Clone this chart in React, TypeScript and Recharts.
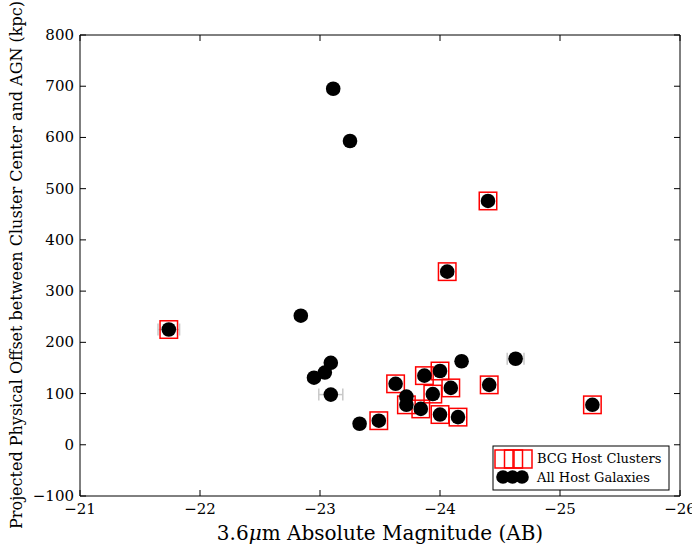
import {
  ScatterChart,
  Scatter,
  XAxis,
  YAxis,
  ErrorBar,
  ReferenceArea,
} from "recharts";

// 3.6um absolute magnitude of each AGN host galaxy
const hostMag = [
  -23.11, -23.25, -24.4, -24.06, -21.74, -22.84, -23.09, -23.04, -22.95, -23.09,
  -23.33, -23.49, -23.63, -23.72, -23.72, -23.84, -23.87, -24.0, -23.94, -24.09,
  -24.0, -24.15, -24.18, -24.41, -24.63, -25.27,
];
// projected offset from cluster center (kpc)
const hostOffset = [
  695, 593, 476, 338, 225, 252, 160, 141, 131, 98,
  41, 47, 119, 94, 78, 70, 135, 144, 99, 111,
  59, 54, 163, 117, 168, 78,
];
// magnitude uncertainties (grey bars)
const magErr = [
  0, 0, 0, 0, 0.09, 0, 0, 0, 0, 0.1,
  0, 0, 0, 0, 0, 0, 0, 0, 0, 0,
  0, 0, 0, 0, 0.07, 0,
];
// whether the host sits in a BCG host cluster
const isBCG = [
  false, false, true, true, true, false, false, false, false, false,
  false, true, true, false, true, true, true, true, true, true,
  true, true, false, true, false, true,
];

const xTicks = [-21, -22, -23, -24, -25, -26];
const yTicks = [-100, 0, 100, 200, 300, 400, 500, 600, 700, 800];

const FONT = "'DejaVu Serif', serif";
const W = 692;
const H = 544;
const PLOT = { left: 80, right: 680, top: 35, bottom: 496 };
const TICK = 6;

const hostData = hostMag.map((mag, i) => ({
  mag,
  offset: hostOffset[i],
  xerr: magErr[i],
}));
const bcgData = hostData.filter((_, i) => isBCG[i]);

const fmt = (v: number) => (v < 0 ? `\u2212${Math.abs(v)}` : `${v}`);

function XTick(props: any) {
  const { x, payload } = props;
  return (
    <g>
      <line x1={x} x2={x} y1={PLOT.bottom} y2={PLOT.bottom - TICK} stroke="#000" />
      <line x1={x} x2={x} y1={PLOT.top} y2={PLOT.top + TICK} stroke="#000" />
      <text x={x} y={514} textAnchor="middle" fontSize={15} fontFamily={FONT} fill="#000">
        {fmt(payload.value)}
      </text>
    </g>
  );
}

function YTick(props: any) {
  const { y, payload } = props;
  return (
    <g>
      <line x1={PLOT.left} x2={PLOT.left + TICK} y1={y} y2={y} stroke="#000" />
      <line x1={PLOT.right} x2={PLOT.right - TICK} y1={y} y2={y} stroke="#000" />
      <text x={74} y={y + 5} textAnchor="end" fontSize={15} fontFamily={FONT} fill="#000">
        {fmt(payload.value)}
      </text>
    </g>
  );
}

const Dot = (p: any) => <circle cx={p.cx} cy={p.cy} r={7.3} fill="#000" />;
const Box = (p: any) => (
  <rect x={p.cx - 8.75} y={p.cy - 8.75} width={17.5} height={17.5} fill="none" stroke="#ff0000" strokeWidth={1.5} />
);

function LegendBox() {
  return (
    <svg
      width={178}
      height={46}
      style={{ position: "absolute", left: 492, top: 445, overflow: "visible" }}
    >
      <rect x={1} y={1} width={176} height={44} fill="#fff" stroke="#000" strokeWidth={1} />
      {[0, 1, 2].map((k) => (
        <rect key={k} x={3 + k * 9.5} y={5} width={18} height={18} fill="none" stroke="#ff0000" strokeWidth={1.5} />
      ))}
      {[0, 1, 2].map((k) => (
        <circle key={k} cx={11 + k * 9.5} cy={32} r={6.8} fill="#000" />
      ))}
      <text x={45} y={18} fontSize={13} fontFamily={FONT} fill="#000">BCG Host Clusters</text>
      <text x={45} y={37} fontSize={13} fontFamily={FONT} fill="#000">All Host Galaxies</text>
    </svg>
  );
}

export default function App() {
  return (
    <div style={{ position: "absolute", left: 0, top: 0, width: W, height: H, background: "#fff" }}>
      <ScatterChart
        width={W}
        height={H}
        margin={{ top: PLOT.top, right: W - PLOT.right, bottom: 0, left: 0 }}
      >
        <XAxis
          type="number"
          dataKey="mag"
          domain={[-26, -21]}
          reversed
          ticks={xTicks}
          tick={XTick}
          tickLine={false}
          axisLine={false}
          height={H - PLOT.bottom}
          interval={0}
        />
        <YAxis
          type="number"
          dataKey="offset"
          domain={[-100, 800]}
          ticks={yTicks}
          tick={YTick}
          tickLine={false}
          axisLine={false}
          width={PLOT.left}
          interval={0}
        />
        <ReferenceArea
          x1={-26}
          x2={-21}
          y1={-100}
          y2={800}
          fill="none"
          stroke="#000"
          strokeWidth={1}
        />
        <Scatter data={bcgData} shape={Box} isAnimationActive={false} />
        <Scatter data={hostData} shape={Dot} isAnimationActive={false}>
          <ErrorBar dataKey="xerr" direction="x" stroke="#c8c8c8" width={6} strokeWidth={1.5} />
        </Scatter>
        <text
          x={380}
          y={540}
          textAnchor="middle"
          fontSize={20}
          fontFamily={FONT}
          fill="#000"
        >
          3.6<tspan fontStyle="italic">μ</tspan>m Absolute Magnitude (AB)
        </text>
        <text
          transform="translate(16,265) rotate(-90)"
          textAnchor="middle"
          dominantBaseline="central"
          fontSize={16}
          fontFamily={FONT}
          fill="#000"
        >
          Projected Physical Offset between Cluster Center and AGN (kpc)
        </text>
      </ScatterChart>
      <LegendBox />
    </div>
  );
}
